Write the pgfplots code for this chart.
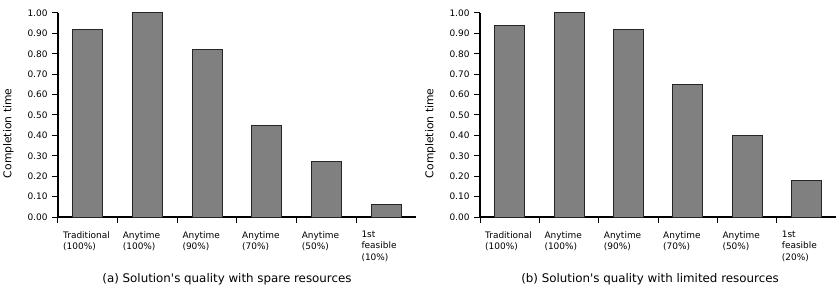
\documentclass[border=0pt]{standalone}
\usepackage{fontspec}
\setmainfont{DejaVu Sans}[Ligatures=TeXOff]
\usepackage{pgfplots}
\pgfplotsset{compat=1.18}
\definecolor{barfill}{HTML}{808080}
\pgfplotsset{
  chartstyle/.style={
    scale only axis,
    width=358bp, height=204bp,
    ymin=0, ymax=1,
    xmin=-0.5, xmax=5.5,
    axis lines=left,
    axis line style={-, line width=1.2bp, black},
    tick align=outside,
    major tick length=6bp,
    tick style={line width=1bp, black},
    ytick={0,0.1,0.2,0.3,0.4,0.5,0.6,0.7,0.8,0.9,1.0},
    /pgf/number format/fixed,
    /pgf/number format/fixed zerofill,
    /pgf/number format/precision=2,
    /pgf/number format/assume math mode=true,
    yticklabel style={font=\fontsize{9}{10}\selectfont, xshift=-1bp},
    xtick={-0.5,0.5,1.5,2.5,3.5,4.5},
    xticklabel style={anchor=north west, align=left, inner sep=0pt, xshift=5bp, yshift=-8bp,
      font=\fontsize{9}{11.3}\selectfont},
    every axis y label/.style={at={([xshift=-49.5bp]axis description cs:0,0.41)}, rotate=90, anchor=center,
      font=\fontsize{10.8}{12}\selectfont},
    ylabel={Completion time},
    ybar, bar width=30bp, bar shift=0pt,
    clip=false,
  },
}
\begin{document}
\begin{tikzpicture}
\useasboundingbox (-58bp,-73bp) rectangle (778bp,217bp);
\begin{axis}[chartstyle,
  xticklabels={{Traditional\\(100\%)},{Anytime\\(100\%)},{Anytime\\(90\%)},{Anytime\\(70\%)},{Anytime\\(50\%)},{1st\\feasible\\(10\%)}},
]
\addplot[fill=barfill, draw=black!85, line width=1bp] coordinates {(0,0.92) (1,1.00) (2,0.82) (3,0.45) (4,0.27) (5,0.06)};
\node[anchor=base, font=\fontsize{11.9}{13}\selectfont] at ([yshift=-65bp]axis description cs:0.472,0) {(a) Solution's quality with spare resources};
\end{axis}
\begin{axis}[chartstyle, at={(422bp,0)}, width=356bp,
  xticklabels={{Traditional\\(100\%)},{Anytime\\(100\%)},{Anytime\\(90\%)},{Anytime\\(70\%)},{Anytime\\(50\%)},{1st\\feasible\\(20\%)}},
]
\addplot[fill=barfill, draw=black!85, line width=1bp] coordinates {(0,0.94) (1,1.00) (2,0.92) (3,0.65) (4,0.40) (5,0.18)};
\node[anchor=base, font=\fontsize{11.9}{13}\selectfont] at ([yshift=-65bp]axis description cs:0.4775,0) {(b) Solution's quality with limited resources};
\end{axis}
\end{tikzpicture}
\end{document}
